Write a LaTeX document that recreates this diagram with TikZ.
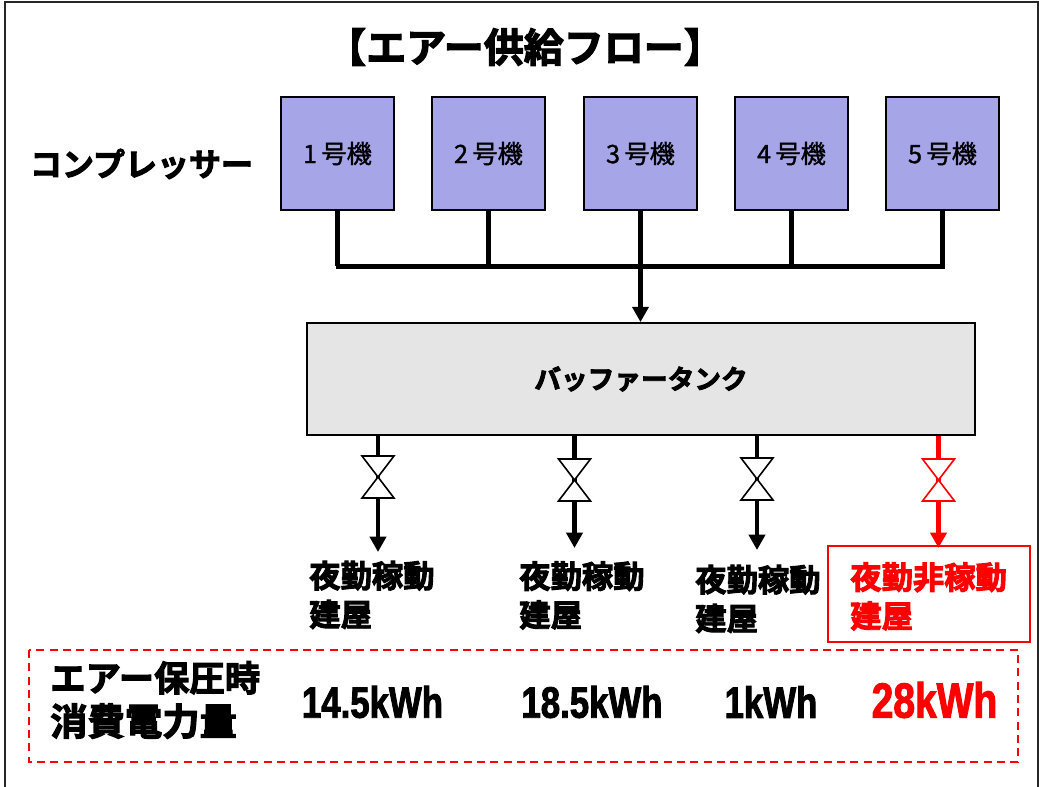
\documentclass[tikz,border=0pt]{standalone}
\usepackage{fontspec}
\usetikzlibrary{arrows.meta,calc}
\newfontfamily\jpfont[FakeBold=1.2]{Noto Sans CJK JP}
\newfontfamily\jpheavy[FakeBold=3]{Noto Sans CJK JP Bold}
\newfontfamily\numfont[FakeStretch=0.79,FakeBold=2]{Liberation Sans Bold}
\definecolor{compblue}{RGB}{165,165,232}
\definecolor{tankgray}{RGB}{229,229,229}
\tikzset{
    compbox/.style={draw,fill=compblue,line width=1.3pt,minimum width=84.5pt,minimum height=84.5pt,inner sep=0pt,font=\jpfont\fontsize{19}{19}\selectfont},
    tankbox/.style={draw,fill=tankgray,line width=1.3pt,minimum width=501pt,minimum height=84pt,inner sep=0pt,font=\jpheavy\fontsize{20}{20}\selectfont},
    pipe/.style={line width=3.6pt},
    flow/.style={pipe,-{Triangle[length=11.5pt,width=12pt]}},
    valve/.style={draw,fill=white,line width=1.2pt,line join=miter},
    headline/.style={inner sep=0pt,font=\jpheavy\fontsize{24}{24}\selectfont},
    bldg/.style={inner sep=0pt,anchor=west,align=left,font=\jpheavy\fontsize{23.5}{29}\selectfont},
    usage/.style={inner sep=0pt,font=\numfont\fontsize{33}{33}\selectfont},
}
\newcommand{\valvemark}[2]{% center, colour
    \draw[valve,draw=#2] ($(#1)+(-16,-21)$) -- ($(#1)+(16,-21)$) -- ($(#1)+(-16,21)$) -- ($(#1)+(16,21)$) -- cycle;
}
\begin{document}
\begin{tikzpicture}[x=0.75pt,y=-0.75pt]
    \useasboundingbox (0,0) rectangle (1039,787);
    \draw[line width=1.5pt,draw=black!85] (5,2) rectangle (1037.5,800);
    \node[headline,font=\jpheavy\fontsize{30}{30}\selectfont] (title) at (525,47) {【エアー供給フロー】};
    \node[headline] (complabel) at (141.5,164) {コンプレッサー};
    % compressors
    \foreach \n/\x in {1/337.5,2/488.5,3/640.5,4/791.5,5/942.5}{
        \node[compbox] (comp\n) at (\x,153.5) {\n\,号機};
    }
    \coordinate (busL) at (338,266.5);
    \coordinate (busR) at (943,266.5);
    \node[tankbox] (tank) at (641,379) {バッファータンク};
    \foreach \n in {1,...,5}{
        \draw[pipe] (comp\n.south) -- (comp\n.south |- busL);
    }
    \draw[pipe,line cap=rect] (busL) -- (busR);
    \draw[flow] (comp3.south |- busL) -- (comp3.south |- tank.north);
    % valves and branches
    \foreach \n/\x/\y/\t/\c in {1/378/477/552/black,2/574.5/480/548/black,3/757/479/550/black,4/938.5/480/548/red}{
        \coordinate (v\n) at (\x,\y);
        \coordinate (tip\n) at (\x,\t);
        \draw[pipe,draw=\c] (v\n |- tank.south) -- (v\n);
        \draw[flow,draw=\c,color=\c] (v\n) -- (tip\n);
        \valvemark{v\n}{\c}
    }
    % buildings
    \node[bldg] (b1) at (309,595) {夜勤稼動\\建屋};
    \node[bldg] (b2) at (519,595.5) {夜勤稼動\\建屋};
    \node[bldg] (b3) at (695,599) {夜勤稼動\\建屋};
    \node[bldg,text=red] (b4) at (850,596.5) {夜勤非稼動\\建屋};
    \node[draw=red,line width=1.3pt,minimum width=151pt,minimum height=72pt,inner sep=0pt] (redbox) at (929,594) {};
    % power use
    \draw[draw=red,line width=1.5pt,dash pattern=on 6pt off 4pt] (29,650) rectangle (1018,762);
    \node[bldg,font=\jpheavy\fontsize{26.5}{33}\selectfont] (usagelabel) at (50,700) {エアー保圧時\\{\fontsize{28}{33}\selectfont 消費電力量}};
    \node[usage] (u1) at (372.5,702) {14.5kWh};
    \node[usage] (u2) at (592,702) {18.5kWh};
    \node[usage] (u3) at (771,702) {1kWh};
    \node[usage,text=red,font=\numfont\fontsize{37}{37}\selectfont] (u4) at (934.5,700) {28kWh};
\end{tikzpicture}
\end{document}
